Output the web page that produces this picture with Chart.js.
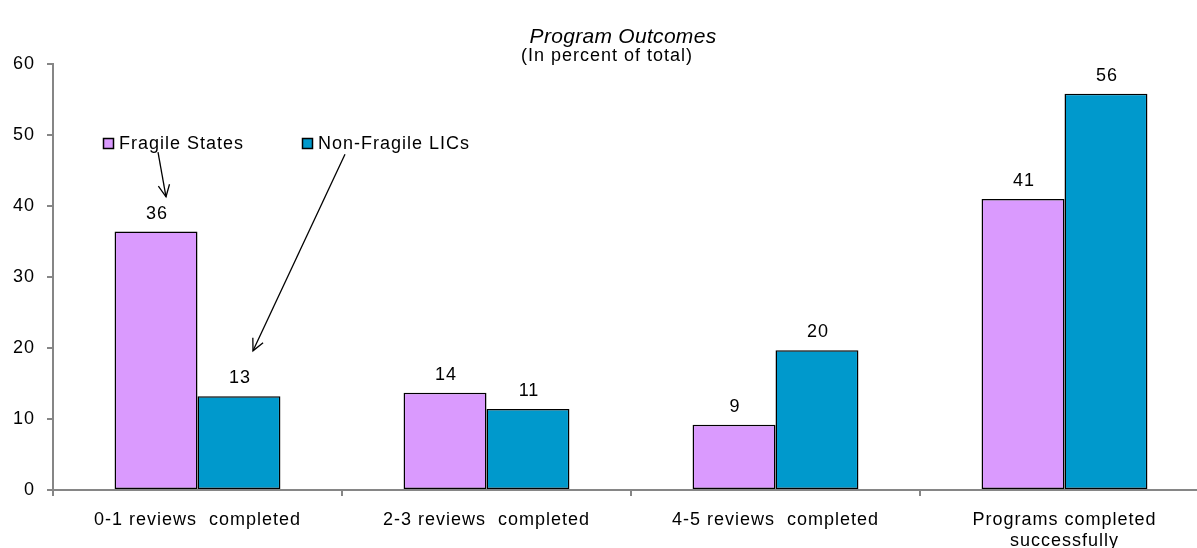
<!DOCTYPE html>
<html><head><meta charset="utf-8">
<script src="https://cdn.jsdelivr.net/npm/chart.js@4"></script>
<style>html,body{margin:0;padding:0;background:#fff;overflow:hidden}#c{display:block}</style>
</head><body><canvas id="c" width="1212" height="548"></canvas>
<script>
const categories = [["0-1 reviews  completed"], ["2-3 reviews  completed"], ["4-5 reviews  completed"], ["Programs completed", "successfully"]];
const seriesNames = ["Fragile States", "Non-Fragile LICs"];
const fragileStates = [36.4, 13.7, 9.2, 41.0];
const nonFragileLICs = [13.2, 11.4, 19.7, 55.8];
const yMin = 0, yMax = 60, yStep = 10;
const titleText = "Program Outcomes";
const subtitleText = "(In percent of total)";

const FONT = '"Liberation Sans", Arial, sans-serif';
const colors = ['#DA9AFE', '#0099CC'];
const axisColor = '#868686';

const spacing = {
  id: 'spacing',
  beforeUpdate(c) { c.ctx.letterSpacing = '1px'; },
  beforeDraw(c) { c.ctx.letterSpacing = '1px'; }
};

const titles = {
  id: 'titles',
  afterDraw(chart) {
    const ctx = chart.ctx, ca = chart.chartArea;
    ctx.save();
    ctx.fillStyle = '#000';
    ctx.textAlign = 'center';
    ctx.textBaseline = 'middle';
    ctx.letterSpacing = '0.3px';
    ctx.font = 'italic 21px ' + FONT;
    ctx.fillText(titleText, (ca.left + ca.right) / 2 - 8, 37);
    ctx.letterSpacing = '1px';
    ctx.font = '18px ' + FONT;
    ctx.fillText(subtitleText, chart.width / 2 + 1, 56);
    ctx.restore();
  }
};

const valueLabels = {
  id: 'valueLabels',
  afterDatasetsDraw(chart) {
    const ctx = chart.ctx;
    ctx.save();
    ctx.font = '18px ' + FONT;
    ctx.fillStyle = '#000';
    ctx.textAlign = 'center';
    ctx.textBaseline = 'middle';
    chart.data.datasets.forEach((ds, i) => {
      chart.getDatasetMeta(i).data.forEach((bar, j) => {
        ctx.fillText(String(Math.round(ds.data[j])), bar.x + 1, bar.y - 18);
      });
    });
    ctx.restore();
  }
};

function arrow(ctx, x1, y1, x2, y2) {
  ctx.beginPath(); ctx.moveTo(x1, y1); ctx.lineTo(x2, y2); ctx.stroke();
  const a = Math.atan2(y2 - y1, x2 - x1), L = 13, s = 0.45;
  ctx.beginPath();
  ctx.moveTo(x2 - L * Math.cos(a - s), y2 - L * Math.sin(a - s));
  ctx.lineTo(x2, y2);
  ctx.lineTo(x2 - L * Math.cos(a + s), y2 - L * Math.sin(a + s));
  ctx.stroke();
}

const inlineLegend = {
  id: 'inlineLegend',
  afterDraw(chart) {
    const ctx = chart.ctx, ca = chart.chartArea, y = chart.scales.y;
    const ly = Math.round(y.getPixelForValue(48.9));
    const items = [ca.left + 50, ca.left + 249];
    ctx.save();
    ctx.font = '18px ' + FONT;
    ctx.textBaseline = 'middle';
    ctx.textAlign = 'left';
    items.forEach((x, i) => {
      ctx.fillStyle = colors[i];
      ctx.fillRect(x, ly - 5, 10, 10);
      ctx.strokeStyle = '#000'; ctx.lineWidth = 1.5;
      ctx.strokeRect(x + 0.5, ly - 4.5, 10, 10);
      ctx.fillStyle = '#000';
      ctx.fillText(seriesNames[i], x + 16, ly + 1);
    });
    ctx.strokeStyle = '#000'; ctx.lineWidth = 1.3;
    arrow(ctx, ca.left + 105, y.getPixelForValue(47.6), ca.left + 113, y.getPixelForValue(41.3));
    arrow(ctx, ca.left + 292, y.getPixelForValue(47.3), ca.left + 200, y.getPixelForValue(19.6));
    ctx.restore();
  }
};

new Chart(document.getElementById('c'), {
  type: 'bar',
  data: {
    labels: categories,
    datasets: [
      { label: seriesNames[0], data: fragileStates, backgroundColor: colors[0], borderColor: '#000', borderWidth: 1.5, borderSkipped: false },
      { label: seriesNames[1], data: nonFragileLICs, backgroundColor: colors[1], borderColor: '#000', borderWidth: 1.5, borderSkipped: false }
    ]
  },
  options: {
    responsive: false, animation: false, devicePixelRatio: 1,
    layout: { padding: { right: 3, left: 0, top: 64, bottom: 0 } },
    datasets: { bar: { categoryPercentage: 0.574, barPercentage: 1 } },
    plugins: {
      legend: { display: false },
      tooltip: { enabled: false },
      title: { display: false },
      subtitle: { display: false }
    },
    scales: {
      x: {
        grid: { display: true, drawOnChartArea: false, color: axisColor, tickLength: 6, lineWidth: 2, offset: true },
        border: { display: true, color: axisColor, width: 2 },
        ticks: { color: '#000', font: { family: FONT, size: 18, lineHeight: 1.2 }, padding: 13, maxRotation: 0, autoSkip: false },
        afterFit(s) { s.height = 58; }
      },
      y: {
        min: yMin, max: yMax,
        grid: { display: true, drawOnChartArea: false, color: axisColor, tickLength: 6, lineWidth: 2 },
        border: { display: true, color: axisColor, width: 2 },
        ticks: { stepSize: yStep, color: '#000', font: { family: FONT, size: 18 }, padding: 12 },
        afterFit(s) { s.width = 53; }
      }
    }
  },
  plugins: [spacing, valueLabels, inlineLegend, titles]
});
</script></body></html>
